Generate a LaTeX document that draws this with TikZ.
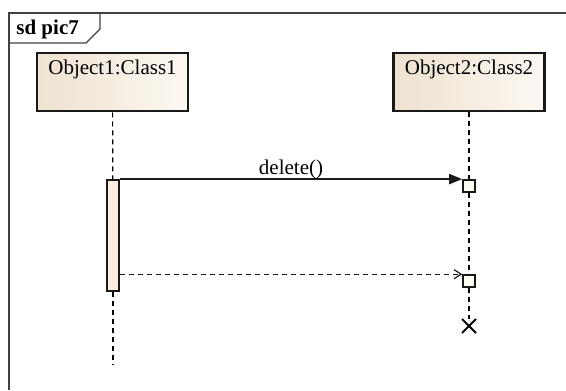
\documentclass[tikz,border=0pt]{standalone}
\usepackage{fontspec}
\setmainfont{Liberation Serif}
\usetikzlibrary{arrows.meta,shapes.misc}
\definecolor{objdark}{RGB}{238,226,208}
\definecolor{objlight}{RGB}{252,248,242}
\definecolor{actfill}{RGB}{251,238,224}
\tikzset{
    frame/.style={draw=black!75, line width=0.7pt},
    objbox/.style={draw=black!90, line width=1.4pt, left color=objdark, right color=objlight,
        minimum width=75.5pt, inner sep=3pt, text height=8pt, text depth=15pt,
        font=\fontsize{10.5}{12}\selectfont},
    actbox/.style={draw=black!90, line width=0.9pt, fill=actfill, inner sep=0pt,
        minimum width=6pt, minimum height=55.5pt},
    endbox/.style={draw=black!90, line width=0.8pt, fill=white!95!yellow, inner sep=0pt,
        minimum size=6pt},
    lifeline/.style={draw=black, line width=0.6pt, dash pattern=on 2.5pt off 2pt},
    call/.style={draw=black!90, line width=1pt, -{Triangle[length=6.5pt,width=5pt]}},
    reply/.style={draw=black!90, line width=0.6pt, dash pattern=on 2.5pt off 2pt,
        -{Straight Barb[length=3.5pt,width=4.5pt]}}
}
\begin{document}
\begin{tikzpicture}[x=0.5pt, y=-0.5pt]
            \useasboundingbox (0,0) rectangle (566,390);
            \draw[frame] (9,390) -- (9,13) -- (566,13);
            \draw[frame] (9,43) -- (86,43) -- (100,29) -- (100,13);
            \node (title) at (16,35) [anchor=base west, inner sep=0pt, font=\fontsize{10.5}{12}\selectfont\bfseries] {sd pic7};

            \node (obj1) at (112.5,82) [objbox] {Object1:Class1};
            \node (obj2) at (469,82) [objbox] {Object2:Class2};

            \node (act) at (113,235.5) [actbox] {};
            \coordinate (end1) at (113,365);
            \draw[lifeline] (obj1) -- (act);
            \draw[lifeline] (act) -- (end1);

            \node (del) at (469,186) [endbox] {};
            \node (ret) at (469,281) [endbox] {};
            \node (kill) at (469,326) [cross out, draw=black, line width=1pt, inner sep=0pt, minimum size=6pt] {};
            \draw[lifeline] (obj2) -- (del);
            \draw[lifeline] (del) -- (ret);
            \draw[lifeline] (ret) -- (kill);

            \draw[call] (act.north east) -- (act.north east -| del.west);
            \node (lbl) at (291,174) [anchor=base, inner sep=0pt, font=\fontsize{10.5}{12}\selectfont] {delete()};
            \draw[reply] (act.east |- ret.north) -- (ret.west |- ret.north);
        \end{tikzpicture}
\end{document}
